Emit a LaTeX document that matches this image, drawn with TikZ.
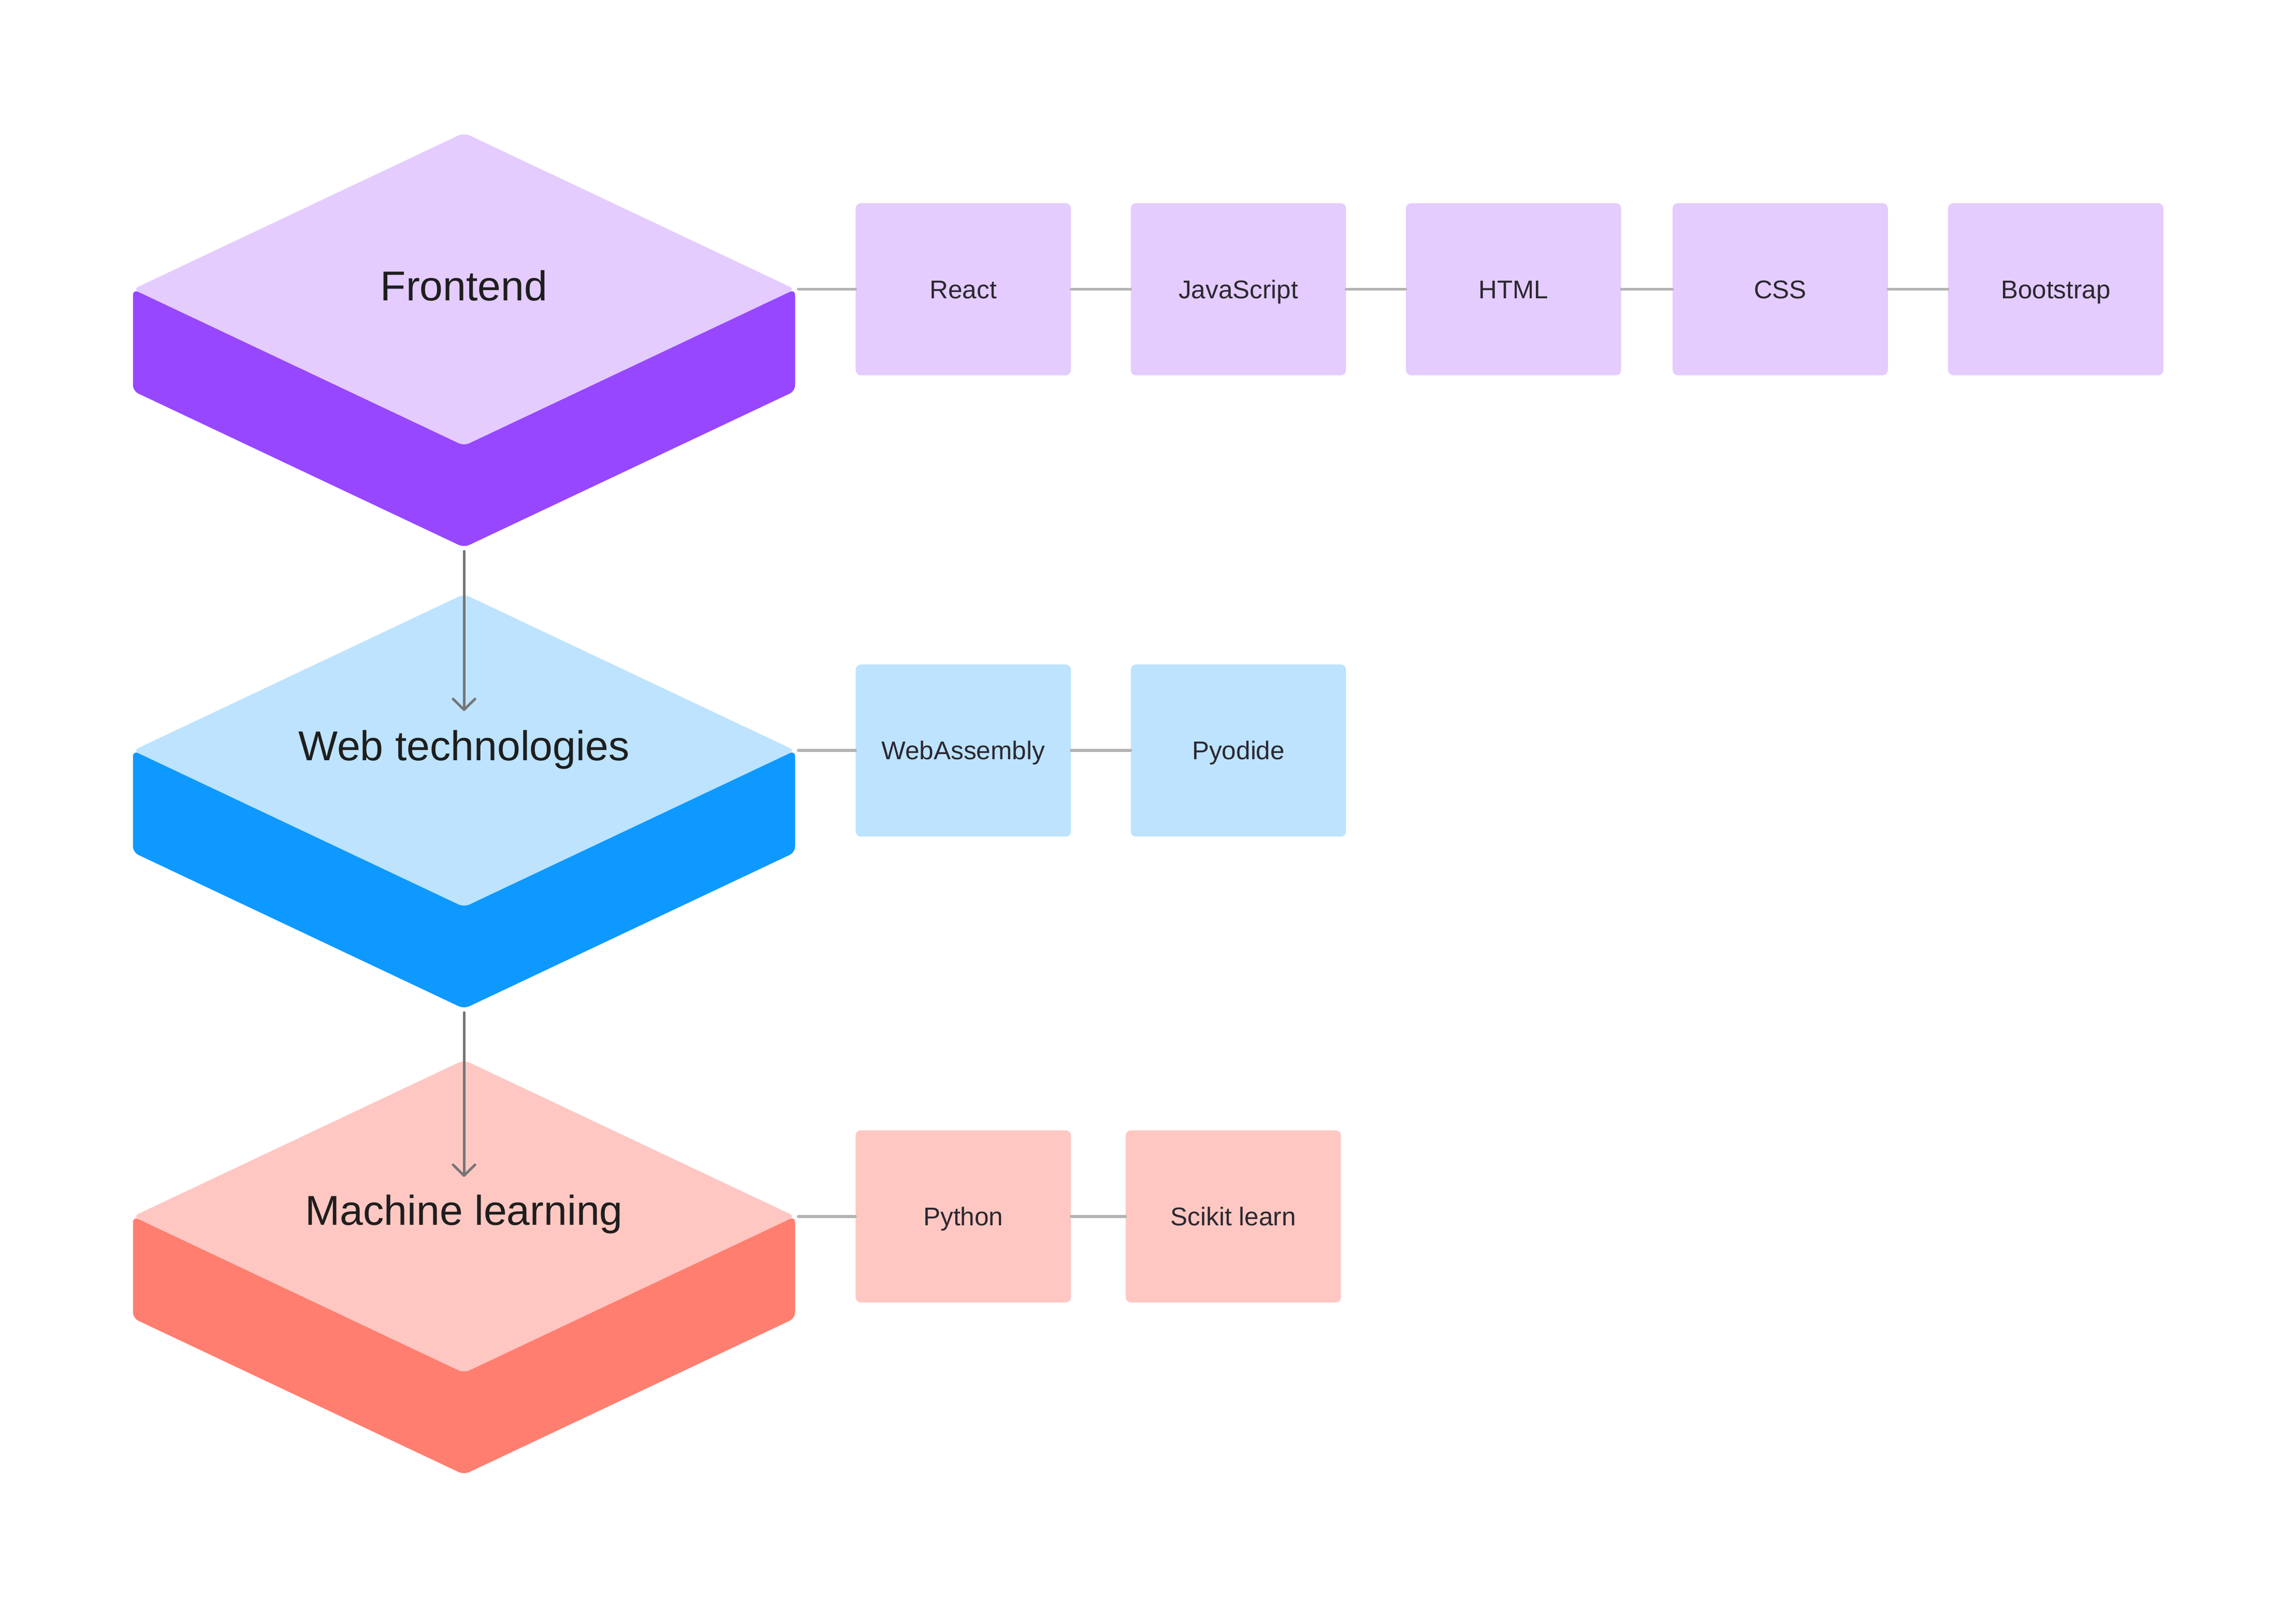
\documentclass[tikz,border=0pt]{standalone}
\usepackage{fontspec}
\setmainfont{Liberation Sans}
\usetikzlibrary{arrows.meta}
\definecolor{fTop}{HTML}{E4CCFF}
\definecolor{fSide}{HTML}{9747FF}
\definecolor{wTop}{HTML}{BDE3FF}
\definecolor{wSide}{HTML}{0D99FF}
\definecolor{mTop}{HTML}{FFC7C2}
\definecolor{mSide}{HTML}{FF7E70}
\definecolor{ink}{HTML}{1E1E1E}
\definecolor{boxink}{HTML}{2B2730}
\definecolor{linkgray}{HTML}{B3B3B3}
\definecolor{arrowgray}{HTML}{757575}

\newcommand{\isoslab}[5]{% #1 name, #2 cx, #3 cy, #4 top colour, #5 side colour
  \coordinate (#1T)  at (#2, #3-106.8);
  \coordinate (#1L)  at (#2-226.1, #3);
  \coordinate (#1R)  at (#2+226.1, #3);
  \coordinate (#1B)  at (#2, #3+106.8);
  \coordinate (#1S)  at (#2, #3+106.8+69.5);
  \coordinate (#1LS) at (#2-226.1, #3+69.5);
  \coordinate (#1RS) at (#2+226.1, #3+69.5);
  \coordinate (#1Out) at (#2, #3+106.8+69.5+2.6);
  \coordinate (#1In)  at (#2, #3-27);
  \coordinate (#1Link) at (#2+228.3, #3);
  \fill[#5, rounded corners=4pt] (#1L) -- (#1LS) -- (#1S) -- (#1RS) -- (#1R) -- (#1B) -- cycle;
  \fill[#4, rounded corners=4pt] (#1T) -- (#1R) -- (#1B) -- (#1L) -- cycle;
}

\tikzset{
  techbox/.style={draw=none, rectangle, rounded corners=3.5pt, minimum width=147pt,
    minimum height=117.5pt, inner sep=0pt, text=boxink,
    font=\fontsize{17.5}{21}\selectfont, text height=12.5pt, text depth=0pt},
  slablabel/.style={inner sep=0pt, text=ink, font=\fontsize{28.5}{34}\selectfont,
    text height=20.4pt, text depth=0pt},
  link/.style={draw=linkgray, line width=2.1pt, line cap=round},
  flow/.style={draw=arrowgray, line width=1.7pt, line cap=round,
    -{Straight Barb[length=7.4pt,width=15pt,round]}},
}

\begin{document}
\begin{tikzpicture}[x=1pt,y=-1pt]
  \fill[white] (0,0) rectangle (1568,1097.3);
  \useasboundingbox (0,0) rectangle (1568,1097.3);

  % slabs
  \isoslab{f}{316.9}{197.5}{fTop}{fSide}
  \isoslab{w}{316.9}{512.5}{wTop}{wSide}
  \isoslab{m}{316.9}{830.6}{mTop}{mSide}

  \node[slablabel] (fLabel) at (316.9,195.0) {Frontend};
  \node[slablabel] (wLabel) at (316.9,509.1) {Web technologies};
  \node[slablabel] (mLabel) at (316.9,826.2) {Machine learning};

  % row 1
  \node[techbox, fill=fTop] (react) at (657.85,197.5) {React};
  \node[techbox, fill=fTop] (js)    at (845.75,197.5) {JavaScript};
  \node[techbox, fill=fTop] (html)  at (1033.6,197.5) {HTML};
  \node[techbox, fill=fTop] (css)   at (1215.75,197.5) {CSS};
  \node[techbox, fill=fTop] (boot)  at (1403.9,197.5) {Bootstrap};

  % row 2
  \node[techbox, fill=wTop] (wasm)  at (657.85,512.5) {WebAssembly};
  \node[techbox, fill=wTop] (pyod)  at (845.75,512.5) {Pyodide};

  % row 3
  \node[techbox, fill=mTop] (py)    at (657.85,830.6) {Python};
  \node[techbox, fill=mTop] (sk)    at (842.25,830.6) {Scikit learn};

  % links
  \draw[link] (fLink) -- (react.west);
  \draw[link] (react.east) -- (js.west);
  \draw[link] (js.east) -- (html.west);
  \draw[link] (html.east) -- (css.west);
  \draw[link] (css.east) -- (boot.west);

  \draw[link] (wLink) -- (wasm.west);
  \draw[link] (wasm.east) -- (pyod.west);

  \draw[link] (mLink) -- (py.west);
  \draw[link] (py.east) -- (sk.west);

  % flow arrows
  \draw[flow] (fOut) -- (wIn);
  \draw[flow] (wOut) -- (mIn);
\end{tikzpicture}
\end{document}
